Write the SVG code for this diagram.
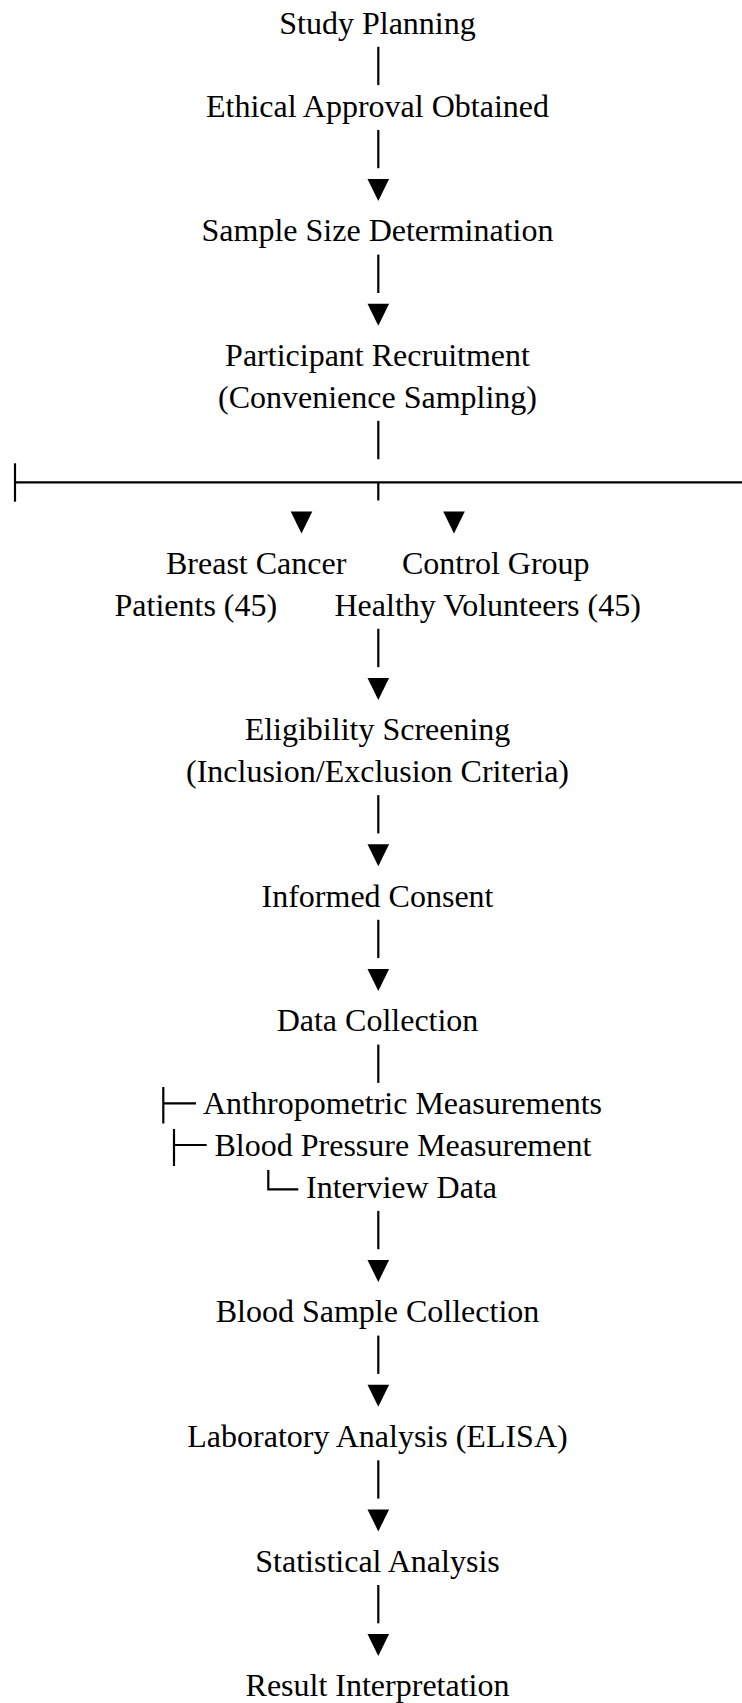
<svg xmlns="http://www.w3.org/2000/svg" width="742" height="1703" viewBox="0 0 742 1703">
<style>
text{font-family:"Liberation Serif","Times New Roman",serif;font-size:32px;fill:#000}
.c{text-anchor:middle}
.ln{stroke:#000;stroke-width:2.2;fill:none}
.ar{fill:#000}
</style>
<defs>
<polygon id="tri" points="-10.8,0 10.8,0 0,22"/>
</defs>
<rect width="742" height="1703" fill="#fff"/>
<g id="connectors">
<line class="ln" x1="378.3" y1="46.8" x2="378.3" y2="85.1"/>
<line class="ln" x1="378.3" y1="129.9" x2="378.3" y2="168.2"/>
<use href="#tri" class="ar" x="378.3" y="179"/>
<line class="ln" x1="378.3" y1="254.6" x2="378.3" y2="293"/>
<use href="#tri" class="ar" x="378.3" y="303.7"/>
<line class="ln" x1="378.3" y1="420.9" x2="378.3" y2="459.2"/>
<line class="ln" x1="14" y1="482.3" x2="742" y2="482.3"/>
<line class="ln" x1="15" y1="463.3" x2="15" y2="501.7"/>
<line class="ln" x1="378.3" y1="482.3" x2="378.3" y2="500.5"/>
<use href="#tri" class="ar" x="301.5" y="511.6"/>
<use href="#tri" class="ar" x="454" y="511.6"/>
<line class="ln" x1="378.3" y1="628.8" x2="378.3" y2="667.1"/>
<use href="#tri" class="ar" x="378.3" y="677.9"/>
<line class="ln" x1="378.3" y1="795.1" x2="378.3" y2="833.4"/>
<use href="#tri" class="ar" x="378.3" y="844.2"/>
<line class="ln" x1="378.3" y1="919.8" x2="378.3" y2="958.1"/>
<use href="#tri" class="ar" x="378.3" y="968.9"/>
<line class="ln" x1="378.3" y1="1044.6" x2="378.3" y2="1082.9"/>
<line class="ln" x1="163.3" y1="1087" x2="163.3" y2="1123.5"/>
<line class="ln" x1="163.3" y1="1103.3" x2="196" y2="1103.3"/>
<line class="ln" x1="174" y1="1129" x2="174" y2="1166"/>
<line class="ln" x1="174" y1="1145" x2="206.7" y2="1145"/>
<path class="ln" d="M268.3,1170 V1189.3 H298.3"/>
<line class="ln" x1="378.3" y1="1210.9" x2="378.3" y2="1249.2"/>
<use href="#tri" class="ar" x="378.3" y="1260"/>
<line class="ln" x1="378.3" y1="1335.6" x2="378.3" y2="1373.9"/>
<use href="#tri" class="ar" x="378.3" y="1384.7"/>
<line class="ln" x1="378.3" y1="1460.3" x2="378.3" y2="1498.6"/>
<use href="#tri" class="ar" x="378.3" y="1509.4"/>
<line class="ln" x1="378.3" y1="1585" x2="378.3" y2="1623.3"/>
<use href="#tri" class="ar" x="378.3" y="1634.1"/>
</g>
<g id="study-planning"><text class="c" x="377.5" y="33.5">Study Planning</text></g>
<g id="ethical-approval"><text class="c" x="377.5" y="116.6">Ethical Approval Obtained</text></g>
<g id="sample-size"><text class="c" x="377.5" y="241.4">Sample Size Determination</text></g>
<g id="recruitment"><text class="c" x="377.5" y="366.1">Participant Recruitment</text><text class="c" x="377.5" y="407.7">(Convenience Sampling)</text></g>
<g id="breast-cancer"><text x="166" y="574">Breast Cancer</text><text x="114.5" y="615.5">Patients (45)</text></g>
<g id="control-group"><text x="402" y="574">Control Group</text><text x="334.5" y="615.5">Healthy Volunteers (45)</text></g>
<g id="eligibility"><text class="c" x="377.5" y="740.3">Eligibility Screening</text><text class="c" x="377.5" y="781.8">(Inclusion/Exclusion Criteria)</text></g>
<g id="consent"><text class="c" x="377.5" y="906.6">Informed Consent</text></g>
<g id="data-collection"><text class="c" x="377.5" y="1031.3">Data Collection</text></g>
<g id="anthropometric"><text x="203" y="1114.4">Anthropometric Measurements</text></g>
<g id="blood-pressure"><text x="214.5" y="1156">Blood Pressure Measurement</text></g>
<g id="interview"><text x="306" y="1197.6">Interview Data</text></g>
<g id="blood-sample"><text class="c" x="377.5" y="1322.3">Blood Sample Collection</text></g>
<g id="lab-analysis"><text class="c" x="377.5" y="1447">Laboratory Analysis (ELISA)</text></g>
<g id="statistical"><text class="c" x="377.5" y="1571.8">Statistical Analysis</text></g>
<g id="result"><text class="c" x="377.5" y="1696">Result Interpretation</text></g>
</svg>
